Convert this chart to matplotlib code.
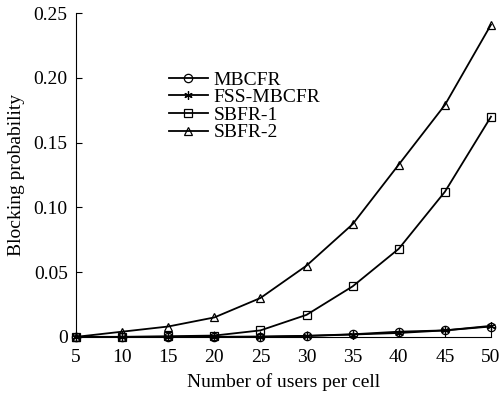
import numpy as np
import matplotlib
matplotlib.use("Agg")
import matplotlib.pyplot as plt

plt.rcParams['font.family'] = ['Liberation Serif', 'DejaVu Serif']

users = [5, 10, 15, 20, 25, 30, 35, 40, 45, 50]
mbcfr = [0, 0, 0, 0, 0.0002, 0.0008, 0.002, 0.004, 0.005, 0.008]
fss_mbcfr = [0, 0, 0, 0, 0.0001, 0.0007, 0.0018, 0.003, 0.005, 0.0085]
sbfr1 = [0, 0, 0.0005, 0.001, 0.005, 0.017, 0.039, 0.068, 0.112, 0.170]
sbfr2 = [0, 0.004, 0.008, 0.015, 0.030, 0.055, 0.087, 0.133, 0.179, 0.241]

fig = plt.figure(figsize=(5, 3.94), dpi=100)
ax = fig.add_axes([0.152, 0.145, 0.83, 0.822])

mk = dict(color="black", lw=1.3, markersize=6, markerfacecolor="none",
          markeredgewidth=0.9, clip_on=False)
ax.plot(users, mbcfr, marker="o", label="MBCFR", **mk)
ax.plot(users, fss_mbcfr, marker=(6, 2, 0), label="FSS-MBCFR", **mk)
ax.plot(users, sbfr1, marker="s", label="SBFR-1", **mk)
ax.plot(users, sbfr2, marker="^", label="SBFR-2", **mk)

ax.set_xlim(5, 50)
ax.set_ylim(0, 0.25)
ax.set_xticks(users)
ax.set_yticks([0, 0.05, 0.10, 0.15, 0.20, 0.25])
ax.set_yticklabels(["0", "0.05", "0.10", "0.15", "0.20", "0.25"])
ax.spines["top"].set_visible(False)
ax.spines["right"].set_visible(False)
ax.tick_params(direction="in", labelsize=14, length=4)
ax.tick_params(axis="x", pad=9)
ax.tick_params(axis="y", pad=6)
ax.set_xlabel("Number of users per cell", fontsize=14, labelpad=5)
ax.set_ylabel("Blocking probability", fontsize=14, labelpad=6)

ax.legend(loc="upper left", bbox_to_anchor=(0.205, 0.845), frameon=False, fontsize=14,
          handlelength=2.0, handletextpad=0.3, labelspacing=0.0, borderaxespad=0)

fig.savefig("out.png", dpi=100)
